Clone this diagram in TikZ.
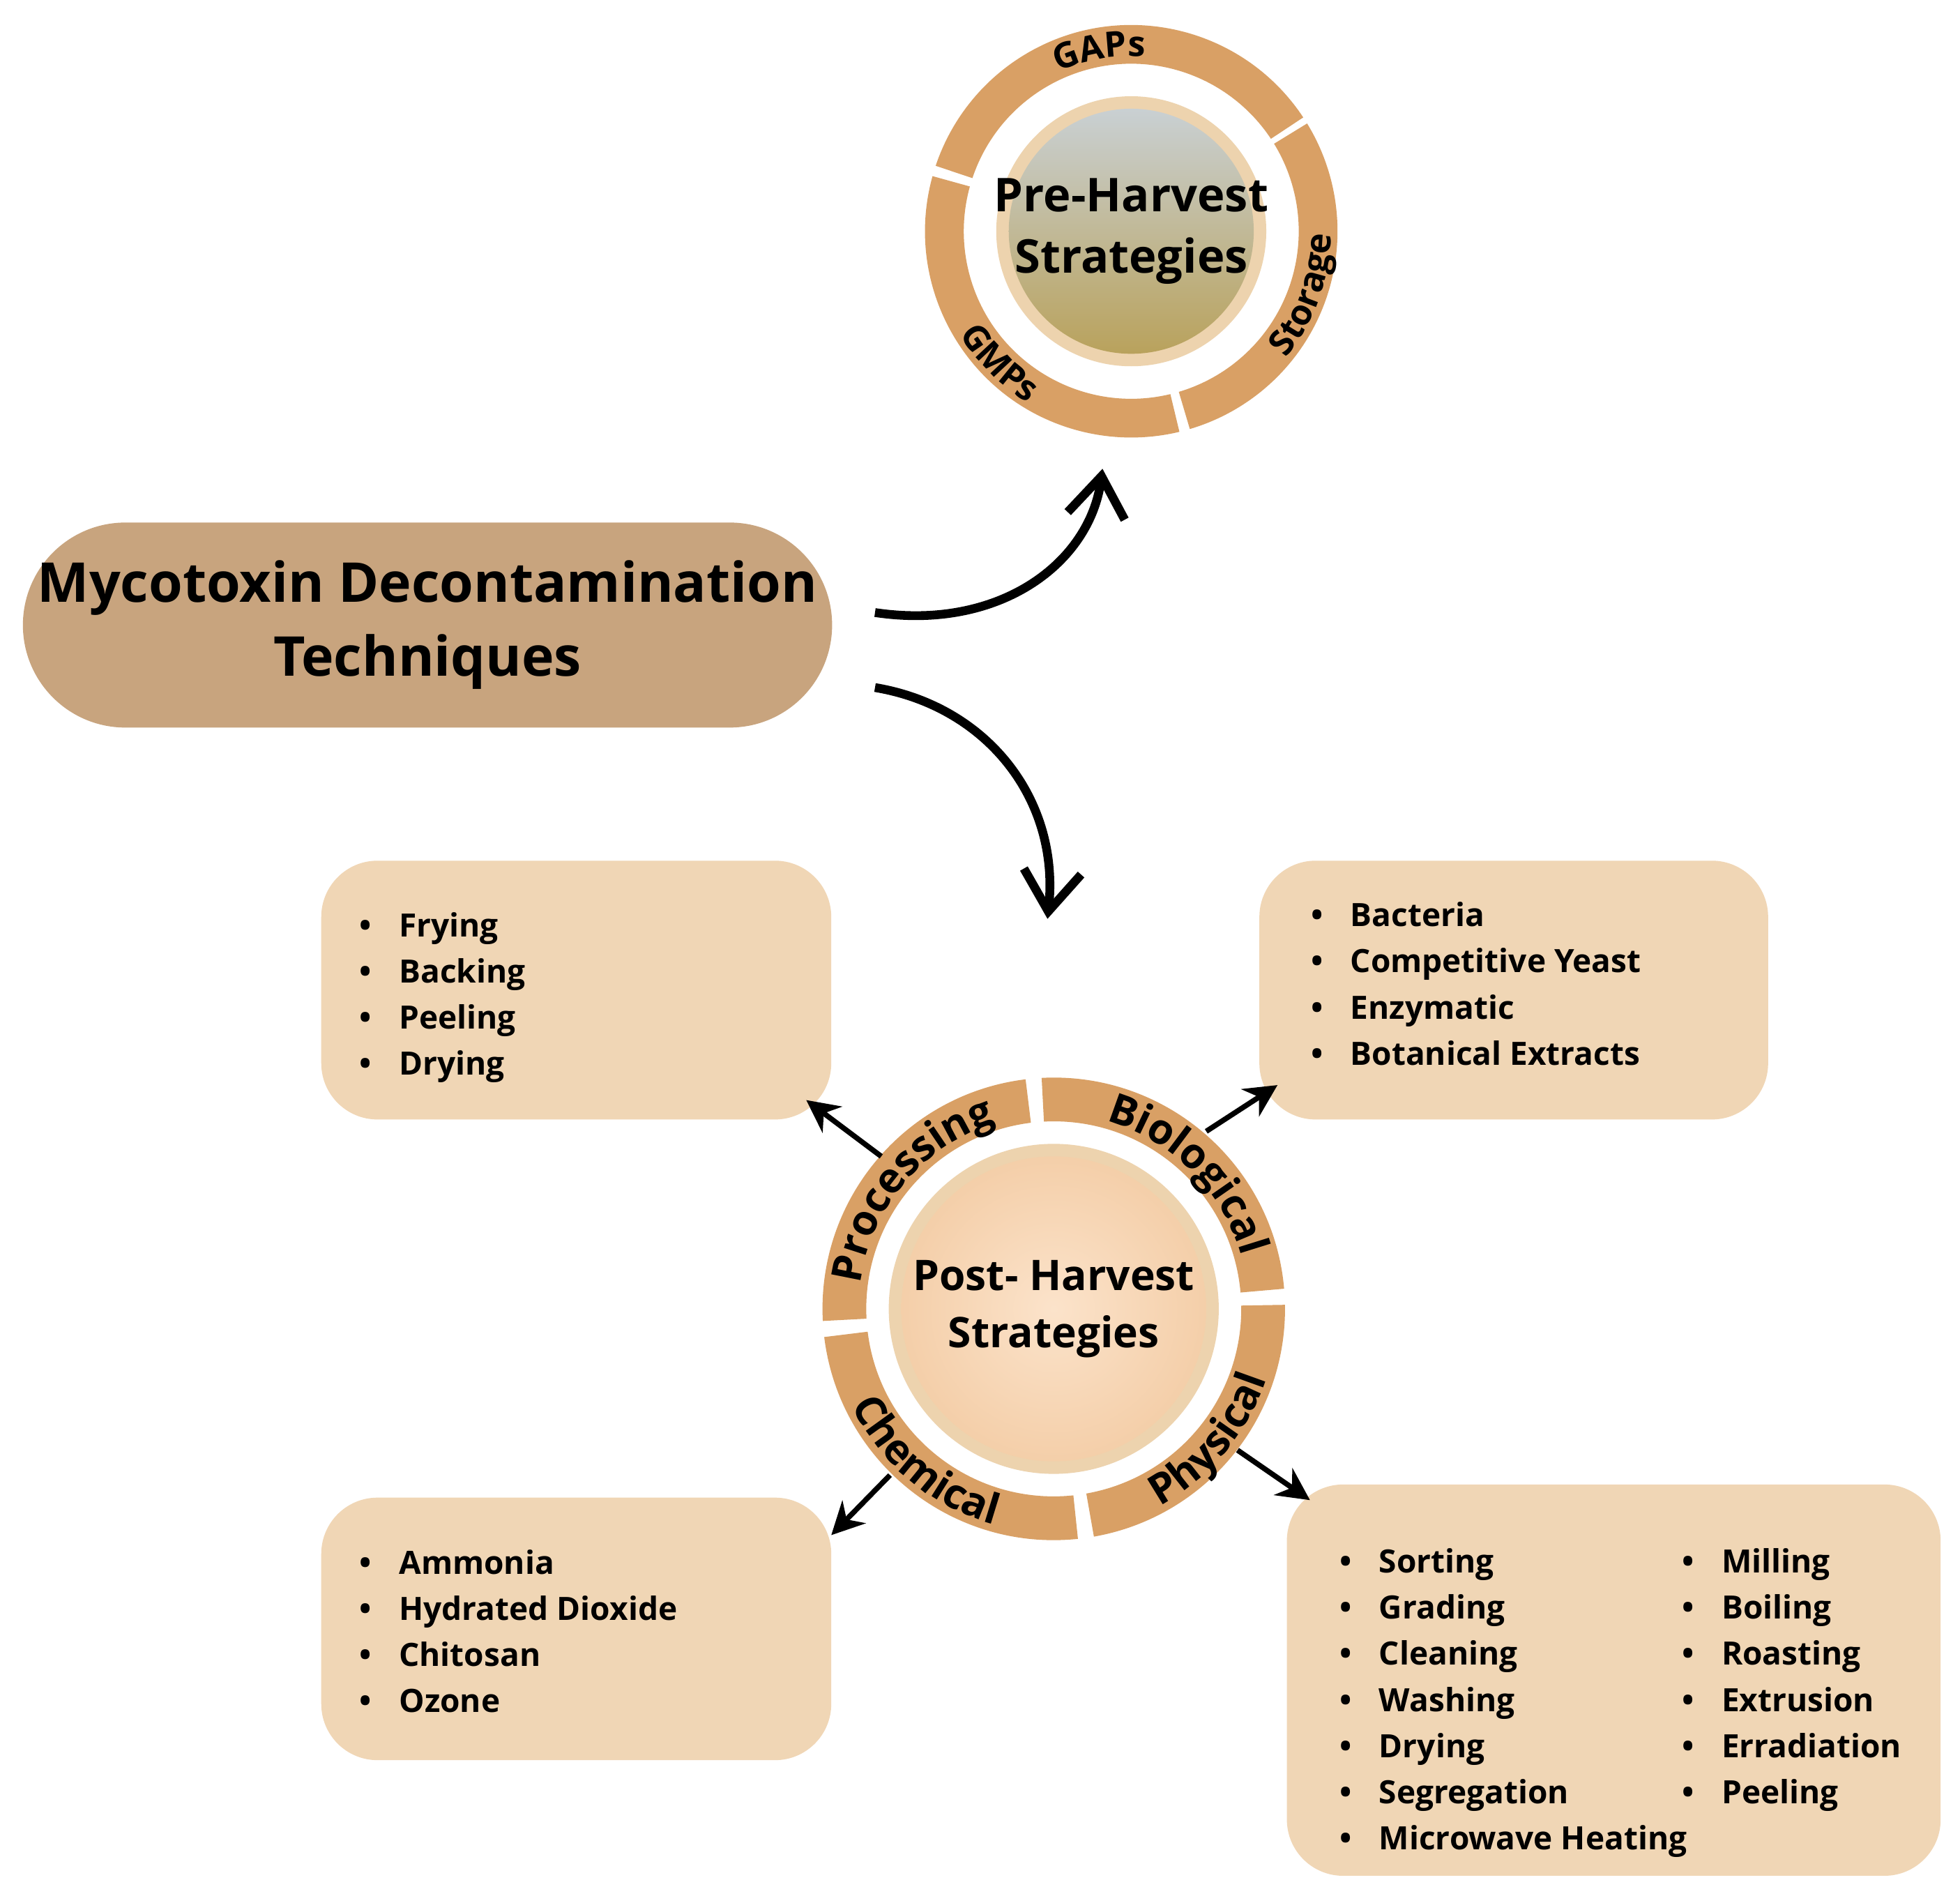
\documentclass[tikz,border=0pt]{standalone}
\usepackage{fontspec}
\setmainfont{Open Sans}
\usepackage{tikz}
\usetikzlibrary{arrows.meta,calc,decorations.text}

\definecolor{ringtan}{HTML}{D9A065}
\definecolor{titletan}{HTML}{C8A47E}
\definecolor{boxcream}{HTML}{F0D6B5}
\definecolor{rimcream}{HTML}{EDD3AE}
\definecolor{skygrey}{HTML}{C9D0D3}
\definecolor{fieldgold}{HTML}{B9A25C}

\newcommand{\itm}[1]{\makebox[9pt][l]{\textbullet}#1}
% annulus piece: centre, start angle, end angle, inner radius, outer radius
\newcommand{\ringseg}[5]{%
  \fill[ringtan] ($(#1)+(#2:#5)$) arc[start angle=#2, end angle=#3, radius=#5]
    -- ($(#1)+(#3:#4)$) arc[start angle=#3, end angle=#2, radius=#4] -- cycle;}

\begin{document}
\begin{tikzpicture}[x=0.1mm, y=0.1mm, font=\bfseries,
  box/.style={fill=boxcream, rounded corners=4.5mm, minimum width=#1},
  list/.style={anchor=north west, inner sep=0pt, align=left, font=\bfseries\fontsize{7.3}{10.5}\selectfont},
  bigarrow/.style={line width=2pt, -{Straight Barb[length=3.2mm, width=4.6mm]}},
  smallarrow/.style={line width=1.2pt, -{Stealth[length=2.6mm, width=2.6mm]}},
  ringlbl/.style={decorate, decoration={text along path, text align=center, text={#1}}}]
  \useasboundingbox[fill=white] (0,0) rectangle (1568,1522);

  % title
  \node[fill=titletan, rounded corners=8.2mm, minimum width=64.5mm, minimum height=16.4mm,
        align=center, font=\bfseries\fontsize{12.5}{16.8}\selectfont] (title) at (342,1022)
        {Mycotoxin Decontamination\\Techniques};

  % pre-harvest circle
  \coordinate (prec) at (905,1337);
  \fill[white] (prec) circle (16.8mm);
  \ringseg{prec}{33.5}{161.5}{13.4mm}{16.5mm}
  \ringseg{prec}{164.5}{283.5}{13.4mm}{16.5mm}
  \ringseg{prec}{286.5}{391.5}{13.4mm}{16.5mm}
  \fill[rimcream] (prec) circle (10.8mm);
  \shade[top color=skygrey, middle color=white!55!fieldgold, bottom color=fieldgold]
    (prec) circle (9.8mm);
  \node[align=center, font=\bfseries\fontsize{10.6}{14}\selectfont]
        (pre) at (prec) {Pre-Harvest\\Strategies};
  \path[ringlbl={|\bfseries\fontsize{8}{8}\selectfont|GAPs}]
    ([shift={(160:14.0mm)}]prec) arc[start angle=160, end angle=40, radius=14.0mm];
  \path[ringlbl={|\bfseries\fontsize{8}{8}\selectfont|GMPs}]
    ([shift={(165:16.0mm)}]prec) arc[start angle=165, end angle=285, radius=16.0mm];
  \path[ringlbl={|\bfseries\fontsize{8}{8}\selectfont|Storage}]
    ([shift={(-80:16.0mm)}]prec) arc[start angle=-80, end angle=40, radius=16.0mm];

  % post-harvest circle
  \coordinate (postc) at (843,475);
  \ringseg{postc}{5}{93}{15mm}{18.5mm}
  \ringseg{postc}{97}{183}{15mm}{18.5mm}
  \ringseg{postc}{187}{276}{15mm}{18.5mm}
  \ringseg{postc}{280}{361}{15mm}{18.5mm}
  \fill[rimcream] (postc) circle (13.2mm);
  \shade[inner color=brown!25!orange!22, outer color=brown!45!orange!38] (postc) circle (12.2mm);
  \node[align=center, font=\bfseries\fontsize{9.6}{13}\selectfont]
        (post) at (postc) {Post- Harvest\\Strategies};
  \path[ringlbl={|\bfseries\fontsize{9.5}{10}\selectfont|Processing}]
    ([shift={(200:15.6mm)}]postc) arc[start angle=200, end angle=80, radius=15.6mm];
  \path[ringlbl={|\bfseries\fontsize{9.5}{10}\selectfont|Biological}]
    ([shift={(105:15.6mm)}]postc) arc[start angle=105, end angle=-15, radius=15.6mm];
  \path[ringlbl={|\bfseries\fontsize{9.5}{10}\selectfont|Chemical}]
    ([shift={(170:17.9mm)}]postc) arc[start angle=170, end angle=290, radius=17.9mm];
  \path[ringlbl={|\bfseries\fontsize{9.5}{10}\selectfont|Physical}]
    ([shift={(260:17.9mm)}]postc) arc[start angle=260, end angle=380, radius=17.9mm];

  % boxes
  \node[box=40.8mm, minimum height=20.7mm] (proc) at (461,730) {};
  \node[box=40.7mm, minimum height=20.7mm] (bio)  at (1211,730) {};
  \node[box=40.8mm, minimum height=21mm]   (chem) at (461,219) {};
  \node[box=52.3mm, minimum height=31.3mm] (phys) at (1291,178) {};

  \node[list] (proclist) at (287,793) {\itm{Frying}\\\itm{Backing}\\\itm{Peeling}\\\itm{Drying}};
  \node[list] (biolist) at (1048,801) {\itm{Bacteria}\\\itm{Competitive Yeast}\\\itm{Enzymatic}\\\itm{Botanical Extracts}};
  \node[list] (chemlist) at (287,283) {\itm{Ammonia}\\\itm{Hydrated Dioxide}\\\itm{Chitosan}\\\itm{Ozone}};
  \node[list] (physlistA) at (1071,284) {\itm{Sorting}\\\itm{Grading}\\\itm{Cleaning}\\\itm{Washing}\\\itm{Drying}\\\itm{Segregation}\\\itm{Microwave Heating}};
  \node[list] (physlistB) at (1345,284) {\itm{Milling}\\\itm{Boiling}\\\itm{Roasting}\\\itm{Extrusion}\\\itm{Erradiation}\\\itm{Peeling}};

  % connectors
  \coordinate (tA) at (700,1032);
  \coordinate (tB) at (700,972);
  \coordinate (preIn) at (882,1147);
  \coordinate (postIn) at (838,787);
  \draw[bigarrow] (tA) .. controls (800,1017) and (872,1072) .. (preIn);
  \draw[bigarrow] (tB) .. controls (790,957) and (848,882) .. (postIn);

  \coordinate (procOut) at (705,597);
  \coordinate (procIn)  at (645,642);
  \coordinate (bioOut)  at (965,617);
  \coordinate (bioIn)   at (1022,654);
  \coordinate (chemOut) at (712,342);
  \coordinate (chemIn)  at (665,294);
  \coordinate (physOut) at (990,362);
  \coordinate (physIn)  at (1048,322);
  \draw[smallarrow] (procOut) -- (procIn);
  \draw[smallarrow] (bioOut) -- (bioIn);
  \draw[smallarrow] (chemOut) -- (chemIn);
  \draw[smallarrow] (physOut) -- (physIn);
\end{tikzpicture}
\end{document}
